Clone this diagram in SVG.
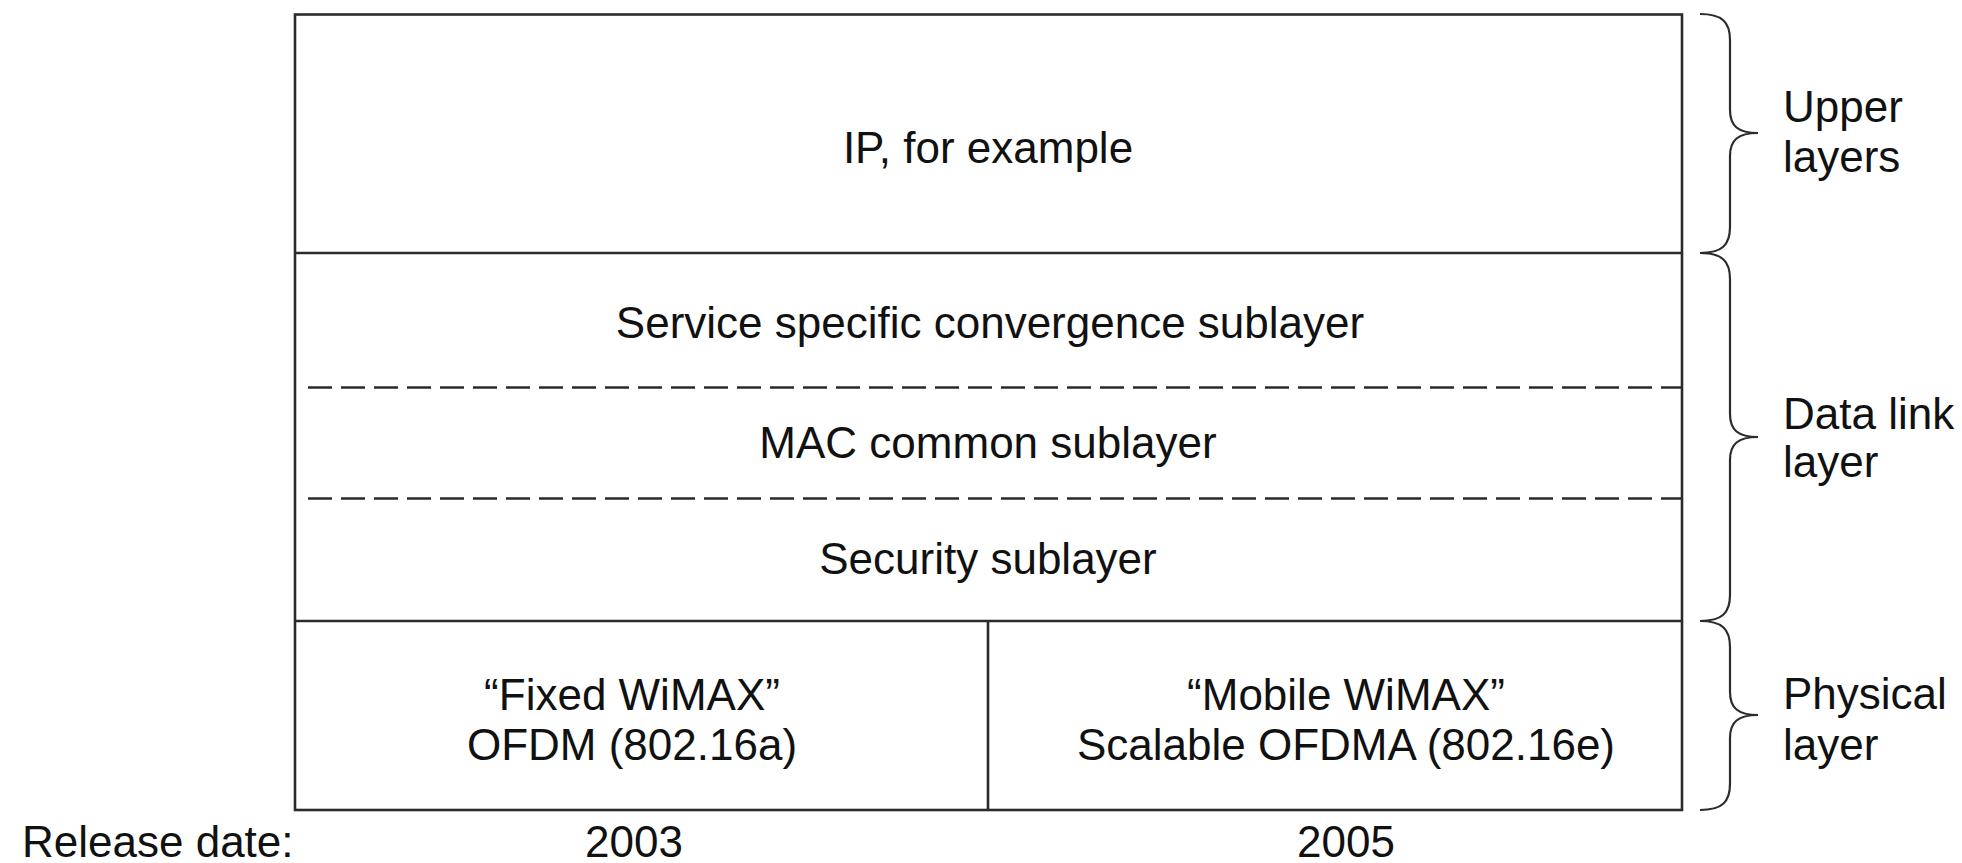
<svg xmlns="http://www.w3.org/2000/svg" width="1962" height="863" viewBox="0 0 1962 863">
<style>
  .t { font-family: "Liberation Sans", Arial, Helvetica, sans-serif; font-size: 44px; fill: #111; }
  .m { text-anchor: middle; }
  .ln { stroke: #2b2b2b; stroke-width: 2.6; fill: none; }
  .dash { stroke: #2b2b2b; stroke-width: 2.4; fill: none; stroke-dasharray: 24 9; }
  .brace { stroke: #2b2b2b; stroke-width: 2.2; fill: none; }
</style>
<rect width="1962" height="863" fill="#ffffff"/>
<g id="frame">
  <rect class="ln" x="295" y="14.5" width="1387" height="795.5"/>
</g>
<g id="upper-layer">
  <text class="t m" x="988" y="163">IP, for example</text>
</g>
<g id="convergence-sublayer">
  <line class="ln" x1="295" y1="253" x2="1682" y2="253"/>
  <text class="t m" x="990" y="338">Service specific convergence sublayer</text>
</g>
<g id="mac-sublayer">
  <line class="dash" x1="308" y1="387.5" x2="1682" y2="387.5"/>
  <text class="t m" x="988" y="458">MAC common sublayer</text>
</g>
<g id="security-sublayer">
  <line class="dash" x1="308" y1="498.5" x2="1682" y2="498.5"/>
  <text class="t m" x="988" y="574">Security sublayer</text>
</g>
<g id="fixed-wimax">
  <line class="ln" x1="295" y1="621" x2="1682" y2="621"/>
  <text class="t m" x="632" y="710">“Fixed WiMAX”</text>
  <text class="t m" x="632" y="760">OFDM (802.16a)</text>
</g>
<g id="mobile-wimax">
  <line class="ln" x1="988" y1="621" x2="988" y2="810"/>
  <text class="t m" x="1346" y="710">“Mobile WiMAX”</text>
  <text class="t m" x="1346" y="760">Scalable OFDMA (802.16e)</text>
</g>
<g id="connectors">
  <path class="brace" d="M1700,14 C1722,14 1730,22 1730,40 L1730,110 C1730,126 1738,133 1758,133 C1738,133 1730,140 1730,156 L1730,227 C1730,245 1722,253 1700,253"/>
  <path class="brace" d="M1700,253 C1722,253 1730,261 1730,279 L1730,414 C1730,430 1738,437 1758,437 C1738,437 1730,444 1730,460 L1730,595 C1730,613 1722,621 1700,621"/>
  <path class="brace" d="M1700,621 C1722,621 1730,629 1730,647 L1730,692 C1730,708 1738,715 1758,715 C1738,715 1730,722 1730,738 L1730,784 C1730,802 1722,810 1700,810"/>
</g>
<g id="label-upper">
  <text class="t" x="1783" y="122">Upper</text>
  <text class="t" x="1783" y="172">layers</text>
</g>
<g id="label-datalink">
  <text class="t" x="1783" y="429">Data link</text>
  <text class="t" x="1783" y="477">layer</text>
</g>
<g id="label-physical">
  <text class="t" x="1783" y="709">Physical</text>
  <text class="t" x="1783" y="760">layer</text>
</g>
<g id="release">
  <text class="t" x="22" y="857">Release date:</text>
  <text class="t m" x="634" y="857">2003</text>
  <text class="t m" x="1346" y="857">2005</text>
</g>
</svg>
